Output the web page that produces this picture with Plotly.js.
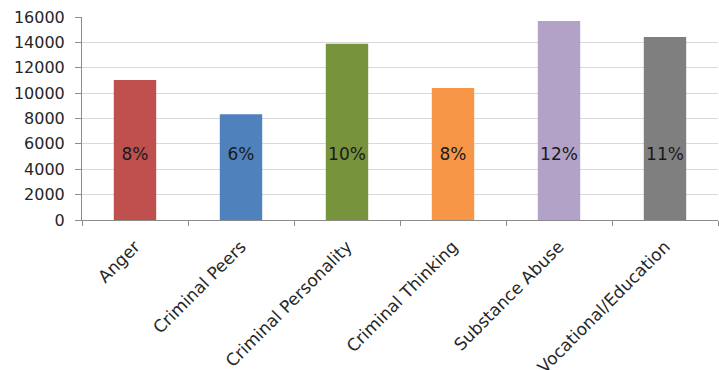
<!DOCTYPE html>
<html>
<head>
<meta charset="utf-8">
<script src="https://cdn.plot.ly/plotly-3.0.1.min.js"></script>
<style>html,body{margin:0;padding:0;background:#fff;}#chart{width:719px;height:370px;}</style>
</head>
<body>
<div id="chart"></div>
<script>
const categories = ["Anger", "Criminal Peers", "Criminal Personality", "Criminal Thinking", "Substance Abuse", "Vocational/Education"];
const values = [11030, 8340, 13900, 10400, 15690, 14420];
const percentLabels = ["8%", "6%", "10%", "8%", "12%", "11%"];
const barColors = ["#C0504D", "#4F81BD", "#77933C", "#F79646", "#B3A2C7", "#7F7F7F"];
const labelHeight = [5100, 5100, 5100, 5100, 5100, 5100];
const yTicks = [0, 2000, 4000, 6000, 8000, 10000, 12000, 14000, 16000];

const font = "DejaVu Sans, Verdana, sans-serif";

const bars = {
  type: "bar",
  x: categories,
  y: values,
  width: 0.4,
  marker: { color: barColors, line: { width: 0 } },
  hoverinfo: "skip",
  showlegend: false
};

const labels = {
  type: "scatter",
  mode: "text",
  x: categories,
  y: labelHeight,
  text: percentLabels,
  textposition: "middle center",
  textfont: { family: font, size: 17, color: "#1a1a1a" },
  hoverinfo: "skip",
  showlegend: false,
  cliponaxis: false
};

const layout = {
  width: 719,
  height: 370,
  margin: { l: 82, r: 1, t: 17, b: 150, pad: 0 },
  paper_bgcolor: "#ffffff",
  plot_bgcolor: "#ffffff",
  font: { family: font, color: "#333333" },
  bargap: 0.6,
  xaxis: {
    type: "category",
    automargin: false,
    tickangle: -45,
    tickfont: { family: font, size: 17, color: "#262626" },
    showline: true,
    linecolor: "#8c8c8c",
    linewidth: 1,
    ticks: "outside",
    tickson: "boundaries",
    ticklen: 5,
    tickcolor: "#8c8c8c",
    ticklabelstandoff: 9,
    showgrid: false,
    zeroline: false,
    fixedrange: true
  },
  yaxis: {
    range: [0, 16000],
    tickvals: yTicks,
    ticktext: yTicks.map(String),
    automargin: false,
    tickfont: { family: font, size: 16, color: "#262626" },
    showline: true,
    linecolor: "#8c8c8c",
    linewidth: 1,
    ticks: "outside",
    ticklen: 6,
    tickcolor: "#8c8c8c",
    ticklabelstandoff: 7,
    showgrid: true,
    gridcolor: "#d9d9d9",
    gridwidth: 1,
    zeroline: false,
    fixedrange: true
  }
};

Plotly.newPlot("chart", [bars, labels], layout, { displayModeBar: false, staticPlot: true });
</script>
</body>
</html>
